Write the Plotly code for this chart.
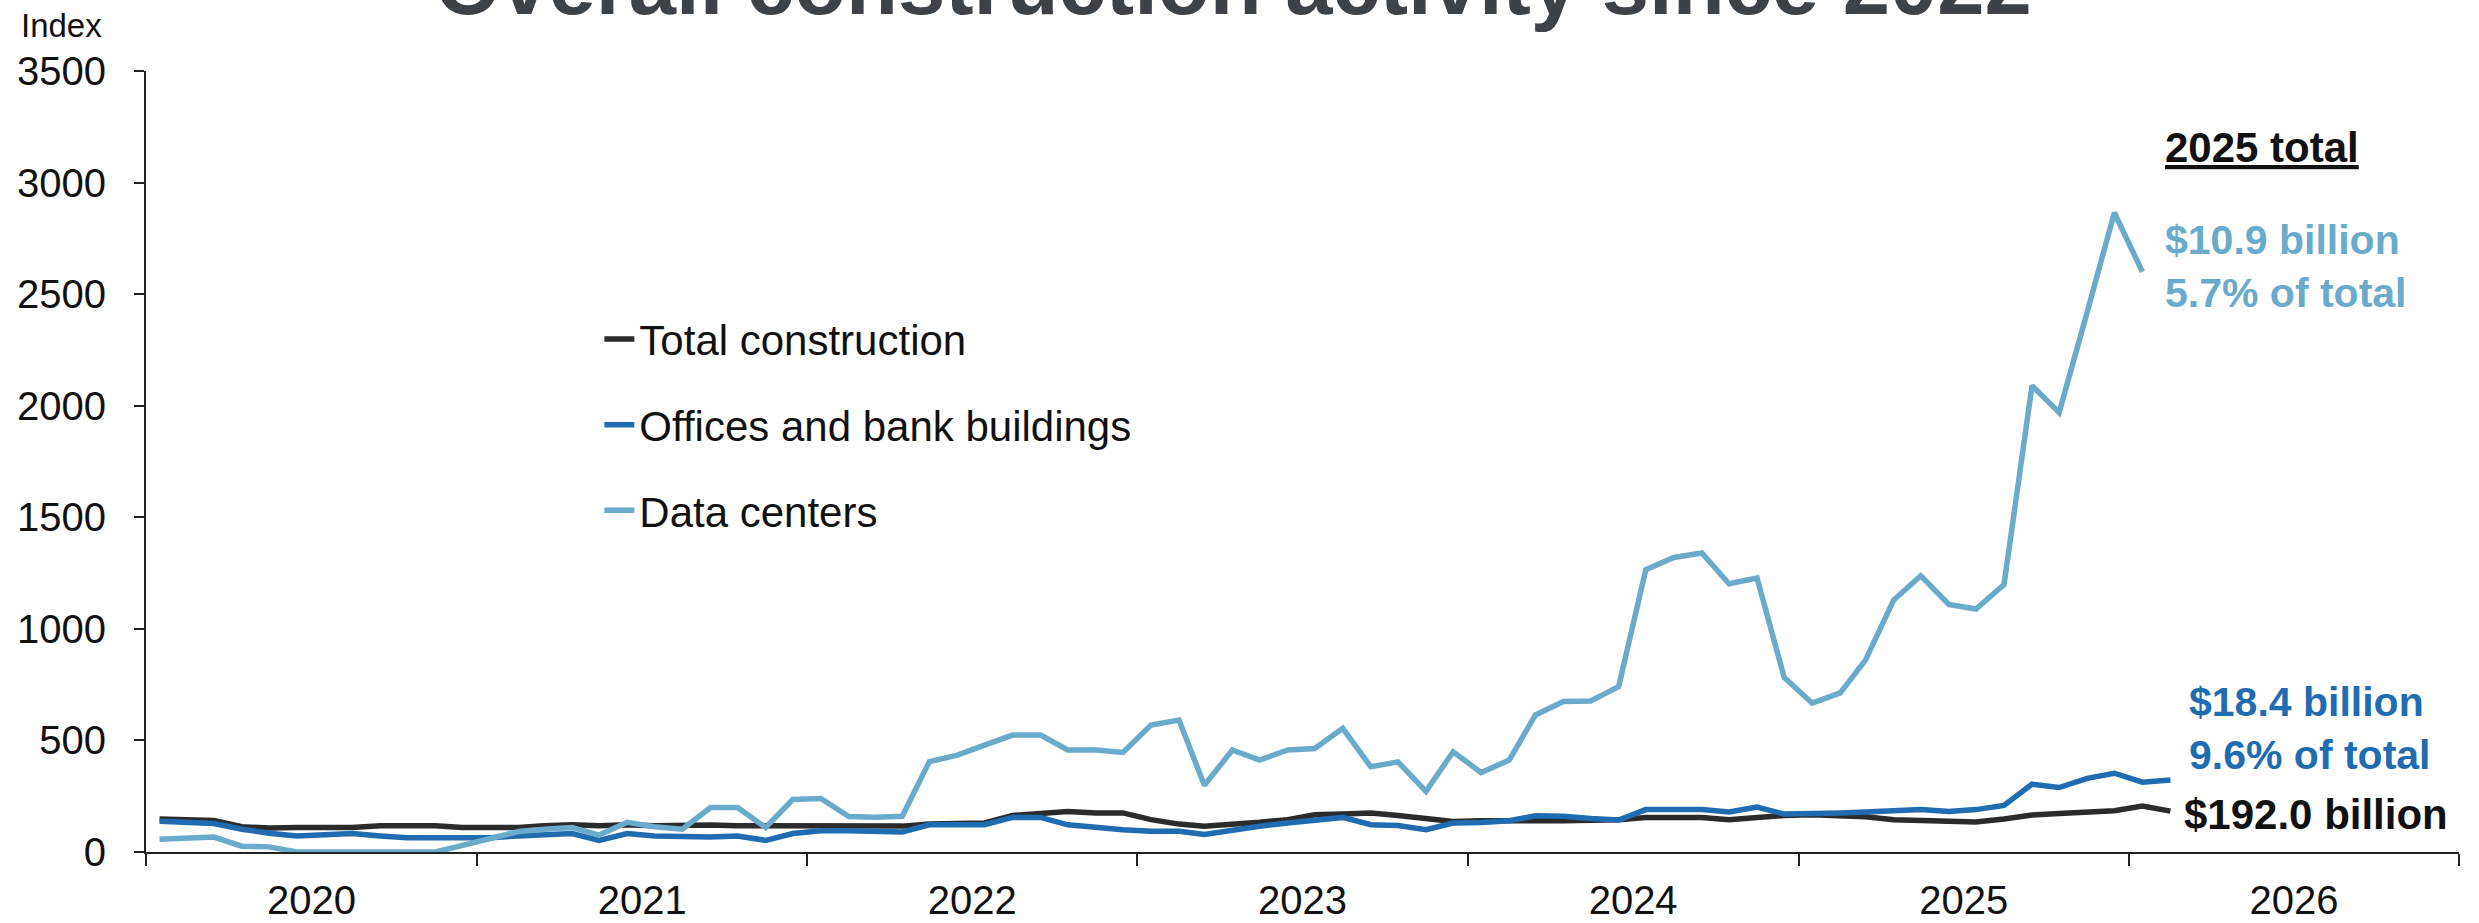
import pandas as pd
import plotly.graph_objects as go

# Monthly index values, Jan 2020 onward
total_construction = [
    148, 144, 141, 113, 107, 110, 110, 110, 118, 121, 118, 110,   # 2020
    107, 110, 118, 122, 118, 122, 118, 122, 121, 118, 118, 118,   # 2021
    118, 118, 118, 116, 125, 125, 130, 164, 175, 182, 175, 175,   # 2022
    145, 125, 115, 122, 133, 145, 167, 170, 175, 164, 152, 137,   # 2023
    140, 137, 140, 140, 143, 145, 155, 155, 155, 145, 155, 164,   # 2024
    167, 163, 158, 145, 142, 134, 135, 148, 166, 172, 176, 185,   # 2025
    206, 183,                                                     # 2026
]
offices_banks = [
    138, 133, 128, 102, 84, 72, 75, 83, 72, 64, 64, 64,
    64, 72, 80, 83, 52, 83, 72, 67, 67, 72, 52, 83,
    95, 95, 95, 90, 122, 122, 122, 155, 155, 122, 110, 100,
    93, 93, 78, 100, 115, 130, 140, 155, 122, 119, 100, 130,
    132, 140, 162, 160, 150, 143, 190, 190, 190, 179, 201, 170,
    170, 175, 179, 182, 190, 182, 190, 209, 304, 289, 330, 353,
    313, 323,
]
data_centers = [
    57, 64, 67, 26, 23, 0, 0, 0, 0, 0, 0, 30,
    60, 92, 102, 110, 76, 133, 113, 102, 199, 199, 110, 235,
    240, 159, 156, 160, 405, 434, 479, 524, 524, 457, 457, 446,
    569, 591, 299, 457, 412, 457, 464, 554, 382, 404, 272, 449,
    356, 412, 614, 674, 677, 741, 1265, 1320, 1340, 1202, 1228, 782,
    667, 713, 861, 1129, 1238, 1109, 1089, 1198, 2090, 1970, 2420, 2865,
    2600,
]

series_names = ["Total construction", "Offices and bank buildings", "Data centers"]
series_colors = ["#2b2b2b", "#1f6cb0", "#6aaacb"]
y_ticks = [0, 500, 1000, 1500, 2000, 2500, 3000, 3500]

# Points sit mid-month
months = pd.date_range("2020-01-01", periods=len(total_construction), freq="MS") + pd.Timedelta(days=15)

FONT = "Arial, Liberation Sans, sans-serif"

fig = go.Figure()
for i, (name, vals, col) in enumerate(zip(series_names,
                                           [total_construction, offices_banks, data_centers],
                                           series_colors)):
    fig.add_trace(go.Scatter(
        x=months[:len(vals)], y=vals, mode="lines", name=name,
        line=dict(color=col, width=5.5), legendgroup=f"g{i}",
    ))

fig.update_layout(
    width=2479, height=923,
    margin=dict(l=146, r=20, t=71, b=71),
    paper_bgcolor="white", plot_bgcolor="white",
    font=dict(family=FONT, color="#111111", size=40),
    showlegend=True,
    legend=dict(
        x=0.196, y=0.70, xanchor="left", yanchor="top",
        bgcolor="rgba(0,0,0,0)", font=dict(size=42, color="#111111"),
        tracegroupgap=28, itemwidth=30,
    ),
    xaxis=dict(
        type="date", range=["2020-01-01", "2027-01-01"], automargin=False,
        tick0="2020-01-01", dtick="M12", tickformat="%Y", ticklabelmode="period",
        ticks="outside", ticklen=12, tickwidth=2, tickcolor="#222222",
        showline=True, linecolor="#222222", linewidth=2,
        showgrid=False, zeroline=False,
        tickfont=dict(size=40, color="#111111"), ticklabelstandoff=0,
    ),
    yaxis=dict(
        range=[0, 3500], tickvals=y_ticks, automargin=False,
        ticks="outside", ticklen=10, tickwidth=2, tickcolor="#222222",
        showline=True, linecolor="#222222", linewidth=2,
        showgrid=False, zeroline=False,
        tickfont=dict(size=40, color="#111111"), ticklabelstandoff=20,
    ),
)

def note(text, x, y, color="#111111", size=41, xanchor="left", yanchor="middle"):
    fig.add_annotation(text=text, x=x, y=y, xref="paper", yref="paper",
                       xanchor=xanchor, yanchor=yanchor, showarrow=False,
                       font=dict(family=FONT, size=size, color=color), align="left")

note("<b>Overall construction activity since 2022</b>", 0.47, 1.047,
     color="#3d4148", size=85, xanchor="center", yanchor="bottom")
note("Index", -0.055, 1.058, size=33)
note("<b><u>2025 total</u></b>", 0.872, 0.9026, size=42)
note("<b>$10.9 billion<br>5.7% of total</b>", 0.872, 0.75, color="#6aaacb")
note("<b>$18.4 billion<br>9.6% of total</b>", 0.8824, 0.1577, color="#1f6cb0")
note("<b>$192.0 billion</b>", 0.8803, 0.0474, size=42)

fig.write_html("out.html")
